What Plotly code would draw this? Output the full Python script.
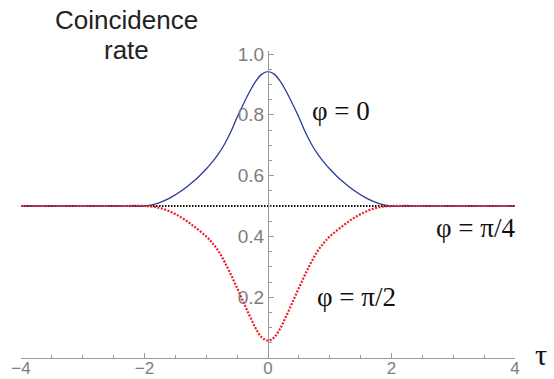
"""Coincidence rate vs. delay tau for three phase settings (Mathematica-style axes)."""

import plotly.graph_objects as go

# --- data ------------------------------------------------------------------
TAU = [-4.0, -3.0, -2.4, -2.0, -1.8, -1.6, -1.4, -1.2, -1.0, -0.9, -0.8, -0.7, -0.6, -0.5,
       -0.4, -0.3, -0.2, -0.1, 0.0, 0.1, 0.2, 0.3, 0.4, 0.5, 0.6, 0.7, 0.8, 0.9, 1.0, 1.2,
       1.4, 1.6, 1.8, 2.0, 2.4, 3.0, 4.0]

RATE_PHI_0 = [0.5, 0.5, 0.5, 0.5, 0.508, 0.525, 0.550, 0.582, 0.622, 0.645, 0.672, 0.705, 0.745, 0.792,
              0.835, 0.875, 0.910, 0.934, 0.942, 0.934, 0.910, 0.875, 0.835, 0.792, 0.745, 0.705, 0.672,
              0.645, 0.622, 0.582, 0.550, 0.525, 0.508, 0.5, 0.5, 0.5, 0.5]

RATE_PHI_PI2 = [0.5, 0.5, 0.5, 0.5, 0.496, 0.483, 0.462, 0.433, 0.400, 0.378, 0.351, 0.315, 0.274, 0.230,
                0.185, 0.140, 0.098, 0.068, 0.057, 0.068, 0.098, 0.140, 0.185, 0.230, 0.274, 0.315, 0.351,
                0.378, 0.400, 0.433, 0.462, 0.483, 0.496, 0.5, 0.5, 0.5, 0.5]

TAU_FLAT = [-4.0, 4.0]
RATE_PHI_PI4 = [0.5, 0.5]

Y_TICKS = [0.2, 0.4, 0.6, 0.8, 1.0]
X_TICKS = [-4, -2, 0, 2, 4]

AXIS_GREY = "#9a9a9a"
LABEL_GREY = "#7d7d7d"
SANS = "Liberation Sans, Arial, sans-serif"
SERIF = "Liberation Serif, Times New Roman, serif"


def build_figure() -> go.Figure:
    fig = go.Figure()

    # phi = pi/4: flat dotted line, drawn first so the curves sit on top of it
    fig.add_trace(go.Scatter(
        x=TAU_FLAT, y=RATE_PHI_PI4, mode="lines",
        line=dict(color="#111111", width=2, dash="1.5px,1.5px"),
        showlegend=False, hoverinfo="skip",
    ))
    fig.add_trace(go.Scatter(
        x=TAU, y=RATE_PHI_0, mode="lines",
        line=dict(color="#2b3a9c", width=1.3, shape="spline", smoothing=1.0),
        showlegend=False,
    ))
    fig.add_trace(go.Scatter(
        x=TAU, y=RATE_PHI_PI2, mode="lines",
        line=dict(color="#ee1c25", width=2.2, dash="2px,1.5px", shape="spline", smoothing=1.0),
        showlegend=False,
    ))

    # labels sit in paper coords so they survive outside the axis ranges
    def label(x, y, text, font, size, color="#222222"):
        fig.add_annotation(
            x=x, y=y, xref="paper", yref="paper", text=text, showarrow=False,
            xanchor="center", yanchor="middle",
            font=dict(family=font, size=size, color=color),
        )

    label(0.2126, 1.101, "Coincidence", SANS, 26)
    label(0.2126, 1.003, "rate", SANS, 26)
    label(0.648, 0.805, "φ = 0", SERIF, 27, "#111111")
    label(0.921, 0.424, "φ = π/4", SERIF, 27, "#111111")
    label(0.680, 0.199, "φ = π/2", SERIF, 27, "#111111")
    label(1.0526, 0.01, "τ", SERIF, 30, "#111111")

    fig.update_layout(
        width=554, height=379,
        margin=dict(l=21, r=39, t=51, b=21),
        plot_bgcolor="#ffffff", paper_bgcolor="#ffffff",
        showlegend=False,
        xaxis=dict(
            range=[-4, 4],
            tickmode="array", tickvals=X_TICKS,
            ticks="inside", ticklen=5, tickcolor=AXIS_GREY, tickwidth=1,
            minor=dict(tickmode="linear", tick0=0, dtick=0.5, ticks="inside",
                       ticklen=3, tickcolor=AXIS_GREY),
            showline=True, linecolor=AXIS_GREY, linewidth=1,
            showgrid=False, zeroline=False,
            tickfont=dict(family=SANS, size=17, color=LABEL_GREY),
            ticklabelstandoff=-5,
            automargin=False,
        ),
        yaxis=dict(
            range=[0, 1.01],
            anchor="free", position=0.5, side="left",
            tickmode="array", tickvals=Y_TICKS,
            ticktext=[f"{v:.1f}" for v in Y_TICKS],
            ticks="inside", ticklen=5, tickcolor=AXIS_GREY, tickwidth=1,
            minor=dict(tickmode="linear", tick0=0, dtick=0.05, ticks="inside",
                       ticklen=3, tickcolor=AXIS_GREY),
            showline=True, linecolor=AXIS_GREY, linewidth=1,
            showgrid=False, zeroline=False,
            tickfont=dict(family=SANS, size=19, color=LABEL_GREY),
            automargin=False,
        ),
    )
    return fig


fig = build_figure()
# drop the browser's default 8px body margin so the figure fills the window
fig.write_html("out.html", config={"displayModeBar": False},
               post_script="document.body.style.margin='0';")
